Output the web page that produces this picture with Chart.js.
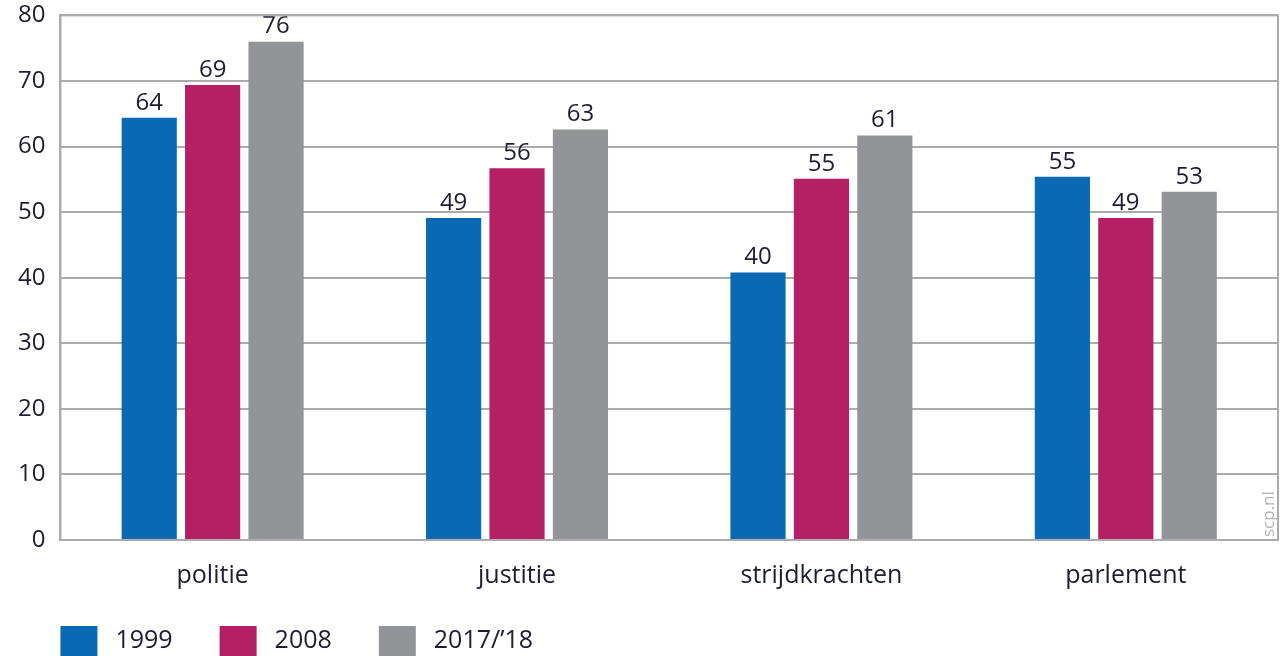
<!DOCTYPE html>
<html>
<head>
<meta charset="utf-8">
<script src="https://cdn.jsdelivr.net/npm/chart.js@4"></script>
<style>
	html, body { margin: 0; padding: 0; background: #fff; overflow: hidden; }
	#wrap { width: 1282px; height: 670px; position: relative; top: -14px; }
</style>
</head>
<body>
<div id="wrap"><canvas id="myChart"></canvas></div>
<script>
const FONT = "'Open Sans', 'Noto Sans', sans-serif";
const TEXT_COLOR = "#1c1d33";
const GRID_COLOR = "#ababab";

const categories = ["politie", "justitie", "strijdkrachten", "parlement"];
const seriesNames = ["1999", "2008", "2017/\u201918"];
const values1999 = [64.4, 49.1, 40.8, 55.4];
const values2008 = [69.4, 56.7, 55.1, 49.1];
const values2017 = [76.0, 62.6, 61.7, 53.1];
// printed numbers above the bars
const labels1999 = [64, 49, 40, 55];
const labels2008 = [69, 56, 55, 49];
const labels2017 = [76, 63, 61, 53];
const colors = ["#0a69b4", "#b51f63", "#939498"];
const yTicks = [0, 10, 20, 30, 40, 50, 60, 70, 80];

const printed = [labels1999, labels2008, labels2017];

// value labels above the bars
const barLabels = {
	id: "barLabels",
	afterDatasetsDraw(chart) {
		const c = chart.ctx;
		c.save();
		c.font = `24px ${FONT}`;
		c.fillStyle = TEXT_COLOR;
		c.textAlign = "center";
		c.textBaseline = "bottom";
		chart.data.datasets.forEach((ds, i) => {
			chart.getDatasetMeta(i).data.forEach((bar, j) => {
				c.fillText(printed[i][j], bar.x, bar.y - 3);
			});
		});
		c.restore();
	},
};

// frame around plot, custom legend and source note
const frameAndLegend = {
	id: "frameAndLegend",
	afterDraw(chart) {
		const c = chart.ctx;
		const a = chart.chartArea;
		c.save();
		c.strokeStyle = GRID_COLOR;
		c.lineWidth = 2;
		c.strokeRect(a.left, a.top, a.right - a.left, a.bottom - a.top);

		// legend (canvas sits 14px above the page top)
		c.font = `25px ${FONT}`;
		c.textBaseline = "middle";
		c.textAlign = "left";
		let x = a.left;
		chart.data.datasets.forEach((ds) => {
			c.fillStyle = ds.backgroundColor;
			c.fillRect(x, 640, 37, 32);
			c.fillStyle = TEXT_COLOR;
			c.fillText(ds.label, x + 55, 655);
			x += 55 + c.measureText(ds.label).width + 47;
		});

		// scp.nl
		c.translate(a.right - 9, a.bottom - 3);
		c.rotate(-Math.PI / 2);
		c.font = `17px ${FONT}`;
		c.fillStyle = "#b4b4b4";
		c.textBaseline = "middle";
		c.fillText("scp.nl", 0, 0);
		c.restore();
	},
};

const ctx = document.getElementById("myChart");

const myChart = new Chart(ctx, {
	type: "bar",
	data: {
		labels: categories,
		datasets: [values1999, values2008, values2017].map((d, i) => ({
			label: seriesNames[i],
			data: d,
			backgroundColor: colors[i],
			categoryPercentage: 0.625,
			barPercentage: 0.87,
		})),
	},
	options: {
		responsive: true,
		maintainAspectRatio: false,
		animation: false,
		layout: {
			padding: { top: 0, right: 4, left: 3, bottom: 52 },
		},
		plugins: {
			legend: { display: false },
			tooltip: { enabled: false },
		},
		scales: {
			x: {
				grid: { display: false },
				border: { color: GRID_COLOR, width: 2 },
				ticks: {
					color: TEXT_COLOR,
					font: { family: FONT, size: 25 },
					padding: 13,
				},
			},
			y: {
				min: 0,
				max: 80,
				afterBuildTicks(axis) {
					axis.ticks = yTicks.map((v) => ({ value: v }));
				},
				grid: { color: GRID_COLOR, lineWidth: 2, drawTicks: false },
				border: { color: GRID_COLOR, width: 2 },
				ticks: {
					color: TEXT_COLOR,
					font: { family: FONT, size: 24 },
					padding: 15,
				},
			},
		},
	},
	plugins: [barLabels, frameAndLegend],
});
</script>
</body>
</html>
